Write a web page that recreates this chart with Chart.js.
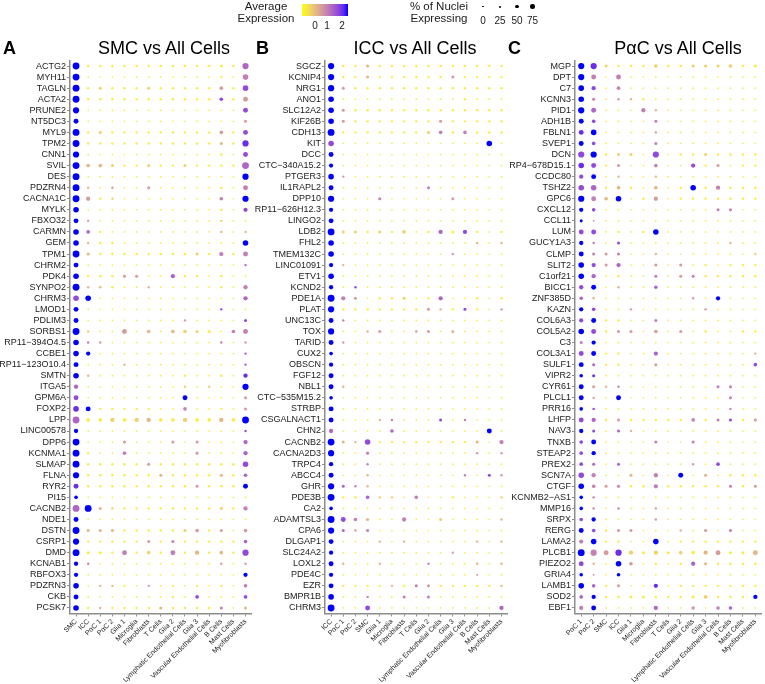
<!DOCTYPE html>
<html>
<head>
<meta charset="utf-8">
<script src="https://cdn.jsdelivr.net/npm/chart.js@4.4.1/dist/chart.umd.min.js"></script>
<style>
  body { margin: 0; background: #fff; font-family: "Liberation Sans", Arial, sans-serif; }
  #wrap { position: relative; width: 765px; height: 684px; overflow: hidden; background: #fff; }
  canvas { position: absolute; top: 0; }
  .txt { position: absolute; white-space: nowrap; color: #1a1a1a; }
  .letter { font-weight: bold; font-size: 18px; line-height: 18px; color: #000; }
  .title { font-size: 18px; line-height: 18px; width: 200px; text-align: center; color: #000; }
  .leg { font-size: 11.5px; line-height: 12px; text-align: center; width: 100px; }
  .num { font-size: 10px; line-height: 10px; width: 20px; text-align: center; }
  .dot { position: absolute; background: #000; border-radius: 50%; }
</style>
</head>
<body>
<div id="wrap">
  <canvas id="pA" width="255" height="684" style="left:0px"></canvas>
  <canvas id="pB" width="256" height="684" style="left:255px"></canvas>
  <canvas id="pC" width="260" height="684" style="left:505px"></canvas>

  <div class="txt letter" style="left:3px;top:39px">A</div>
  <div class="txt title" style="left:64px;top:39px">SMC vs All Cells</div>
  <div class="txt letter" style="left:256px;top:39px">B</div>
  <div class="txt title" style="left:315px;top:39px">ICC vs All Cells</div>
  <div class="txt letter" style="left:508px;top:39px">C</div>
  <div class="txt title" style="left:578px;top:39px">PαC vs All Cells</div>

  <!-- legends -->
  <div class="txt leg" style="left:216px;top:0px">Average<br>Expression</div>
  <div id="cbar" style="position:absolute;left:302px;top:4px;width:46px;height:12px"></div>
  <div class="txt num" style="left:305px;top:20.5px">0</div>
  <div class="txt num" style="left:317px;top:20.5px">1</div>
  <div class="txt num" style="left:332px;top:20.5px">2</div>
  <div class="txt leg" style="left:389px;top:0px">% of Nuclei<br>Expressing</div>
  <div id="sizeLegend"></div>
</div>

<script>
// cell types (x axis) for each panel
const cellsA = ['SMC', 'ICC', 'PαC 1', 'PαC 2', 'Glia 1', 'Microglia', 'Fibroblasts', 'T Cells', 'Glia 2',
  'Lymphatic Endothelial Cells', 'Glia 3', 'Vascular Endothelial Cells', 'B Cells', 'Mast Cells', 'Myofibroblasts'];
const cellsB = ['ICC', 'PαC 1', 'PαC 2', 'SMC', 'Glia 1', 'Microglia', 'Fibroblasts', 'T Cells', 'Glia 2',
  'Lymphatic Endothelial Cells', 'Glia 3', 'Vascular Endothelial Cells', 'B Cells', 'Mast Cells', 'Myofibroblasts'];
const cellsC = ['PαC 1', 'PαC 2', 'SMC', 'ICC', 'Glia 1', 'Microglia', 'Fibroblasts', 'T Cells', 'Glia 2',
  'Lymphatic Endothelial Cells', 'Glia 3', 'Vascular Endothelial Cells', 'B Cells', 'Mast Cells', 'Myofibroblasts'];

// genes (y axis, top to bottom)
const genesA = ['ACTG2', 'MYH11', 'TAGLN', 'ACTA2', 'PRUNE2', 'NT5DC3', 'MYL9', 'TPM2', 'CNN1', 'SVIL',
  'DES', 'PDZRN4', 'CACNA1C', 'MYLK', 'FBXO32', 'CARMN', 'GEM', 'TPM1', 'CHRM2', 'PDK4',
  'SYNPO2', 'CHRM3', 'LMOD1', 'PDLIM3', 'SORBS1', 'RP11−394O4.5', 'CCBE1', 'RP11−123O10.4', 'SMTN', 'ITGA5',
  'GPM6A', 'FOXP2', 'LPP', 'LINC00578', 'DPP6', 'KCNMA1', 'SLMAP', 'FLNA', 'RYR2', 'PI15',
  'CACNB2', 'NDE1', 'DSTN', 'CSRP1', 'DMD', 'KCNAB1', 'RBFOX3', 'PDZRN3', 'CKB', 'PCSK7'];
const genesB = ['SGCZ', 'KCNIP4', 'NRG1', 'ANO1', 'SLC12A2', 'KIF26B', 'CDH13', 'KIT', 'DCC', 'CTC−340A15.2',
  'PTGER3', 'IL1RAPL2', 'DPP10', 'RP11−626H12.3', 'LINGO2', 'LDB2', 'FHL2', 'TMEM132C', 'LINC01091', 'ETV1',
  'KCND2', 'PDE1A', 'PLAT', 'UNC13C', 'TOX', 'TARID', 'CUX2', 'OBSCN', 'FGF12', 'NBL1',
  'CTC−535M15.2', 'STRBP', 'CSGALNACT1', 'CHN2', 'CACNB2', 'CACNA2D3', 'TRPC4', 'ABCC4', 'GHR', 'PDE3B',
  'CA2', 'ADAMTSL3', 'CPA6', 'DLGAP1', 'SLC24A2', 'LOXL2', 'PDE4C', 'EZR', 'BMPR1B', 'CHRM3'];
const genesC = ['MGP', 'DPT', 'C7', 'KCNN3', 'PID1', 'ADH1B', 'FBLN1', 'SVEP1', 'DCN', 'RP4−678D15.1',
  'CCDC80', 'TSHZ2', 'GPC6', 'CXCL12', 'CCL11', 'LUM', 'GUCY1A3', 'CLMP', 'SLIT2', 'C1orf21',
  'BICC1', 'ZNF385D', 'KAZN', 'COL6A3', 'COL5A2', 'C3', 'COL3A1', 'SULF1', 'VIPR2', 'CYR61',
  'PLCL1', 'PRR16', 'LHFP', 'NAV3', 'TNXB', 'STEAP2', 'PREX2', 'SCN7A', 'CTGF', 'KCNMB2−AS1',
  'MMP16', 'SRPX', 'RERG', 'LAMA2', 'PLCB1', 'PIEZO2', 'GRIA4', 'LAMB1', 'SOD2', 'EBF1'];

// % of nuclei expressing, in tens (one digit per cell type, same order as cells)
const pctA = [
  '92222 22222 22328', '91111 11111 11217', '92322 23222 22427', '92222 22222 22426', '81111 11111 11116',
  '61111 11111 11113', '92322 22222 22426', '92222 22222 22328', '81111 11111 11216', '94432 23223 22229',
  '91111 11111 11118', '92121 13111 11216', '95221 11111 11418', '71111 11111 11215', '62111 11111 11211',
  '74211 11111 11212', '72221 11111 11117', '93222 22222 32526', '61111 11111 11112', '72223 31152 21211',
  '92221 12111 11215', '77111 11111 11115', '61111 11111 11211', '61111 11112 11113', '92116 14144 33146',
  '72211 11111 11212', '75111 11111 11112', '61112 11111 11112', '72111 11112 11215', '51111 11112 12118',
  '61111 11116 11113', '76222 22114 11213', '94454 55445 44549', '51111 11111 11112', '91113 11131 31115',
  '92114 11111 31115', '92222 23222 22227', '82222 22322 22324', '62222 22222 32226', '41111 11111 11111',
  '99322 22222 22325', '61111 11111 11111', '93332 22223 42314', '82222 23232 22224', '93326 24262 52428',
  '52111 11111 11212', '51111 11111 11115', '71222 12121 21214', '61111 11121 41114', '72222 22322 22313'];
// average expression level, 1 = low (yellow) .. 9 = high (blue)
const exprA = [
  '91111 11111 11116', '91111 11111 11115', '91211 12111 11417', '91111 11111 11714', '91111 11111 11117',
  '91111 11111 11114', '91211 11111 11417', '91111 11111 11318', '91111 11111 11117', '93321 12112 11116',
  '91111 11111 11119', '93141 14111 11115', '94121 11111 11519', '91111 11111 11117', '94111 11111 11211',
  '96111 11111 11313', '93111 11111 11119', '93111 11111 21515', '91111 11111 11116', '91114 41161 11111',
  '93311 13111 11115', '79111 11111 11116', '91111 11111 11711', '91111 11114 11117', '92114 13132 21155',
  '95411 11111 11514', '99111 11111 11116', '91113 11111 11116', '93111 11111 11118', '61111 11112 12119',
  '71111 11119 11114', '89111 11115 11114', '61121 23112 11319', '91111 11111 11117', '91114 11141 41116',
  '91115 11111 41116', '91111 14111 11117', '91111 11311 11316', '81111 11111 41119', '91111 11111 11111',
  '69321 11111 11215', '91111 11111 11111', '93331 11112 41414', '91111 14151 11116', '91115 12151 31317',
  '95111 11111 11414', '91111 11111 11119', '91331 14111 11115', '91111 11111 71117', '91311 11311 11513'];

const pctB = [
  '82232 22222 22222', '82232 22222 32222', '83222 22222 22222', '71111 11111 12111', '73222 22222 22222',
  '73222 22223 22222', '92222 22234 24222', '71111 11111 11171', '61111 11111 11111', '51111 11111 11111',
  '72111 11111 11111', '61111 11131 11111', '81113 11111 31111', '51111 11111 11111', '61111 11111 11111',
  '93323 24125 35212', '71111 11111 11212', '71111 11111 21111', '52111 11111 11111', '71111 11111 11111',
  '51211 11111 11111', '95312 23125 11212', '82222 22232 23212', '62111 11111 11111', '81123 11231 31111',
  '62111 11111 11111', '41111 11111 11111', '51111 11111 11111', '61111 11111 11111', '62111 11111 11111',
  '41111 11111 11111', '61111 11111 11111', '61112 21113 12111', '51111 41111 11161', '93272 22222 22315',
  '81131 11111 11212', '51121 11111 11111', '61121 11111 12132', '83221 11111 11111', '92242 21411 21112',
  '41111 11111 11111', '96431 15113 11112', '83231 11111 11111', '61112 12111 11212', '51111 11111 21111',
  '62112 11121 11212', '51111 11111 11111', '62222 22332 22222', '71121 13131 11111', '91161 11111 11115'];
const exprB = [
  '91131 11111 11111', '91131 11111 41111', '94111 11111 11111', '91111 11111 11111', '94111 11111 11111',
  '94111 11114 11111', '91111 11125 15111', '71111 11111 11191', '91111 11111 11111', '91111 11111 11111',
  '94111 11111 11111', '91111 11151 11111', '91115 11111 41111', '91111 11111 11111', '91111 11111 11111',
  '92212 12116 17111', '91111 11111 11313', '91111 11111 41111', '93111 11111 11111', '91111 11111 11111',
  '91711 11111 11111', '95411 12116 11111', '91111 11143 17114', '95111 11111 11111', '91134 11441 31111',
  '94111 11111 11111', '91111 11111 11111', '91111 11111 11111', '91111 11111 11111', '93111 11111 11111',
  '91111 11111 11111', '91111 11111 11111', '91113 51117 15111', '61111 61111 11191', '93371 11111 11315',
  '91151 11111 11414', '91151 11111 11111', '91131 11111 15174', '96531 11111 11111', '91162 21511 11112',
  '91111 11111 11111', '97531 15112 11113', '96451 11111 11111', '91113 13111 11313', '91111 11111 41111',
  '93113 11151 11313', '91111 11111 11511', '91111 31541 11113', '91151 15151 11111', '91171 11111 11116'];

const pctC = [
  '88322 24223 33423', '86161 11111 11111', '75141 11111 11111', '73122 21111 11111', '86111 52111 11111',
  '64111 13111 11111', '67111 12111 11111', '64111 13111 11111', '88233 18122 32222', '76231 14115 23122',
  '56121 12111 11111', '77242 14127 25222', '86471 25122 22222', '54111 11111 13311', '31111 11111 11111',
  '66121 27111 11111', '52131 11111 11211', '63331 12111 11112', '75351 13131 21222', '75121 13133 22222',
  '56121 14111 11111', '42111 11112 15111', '54112 11111 21111', '56221 13111 11111', '76233 14131 21122',
  '35111 11111 11111', '66221 15111 11112', '63221 13111 11114', '43111 11111 11111', '63221 11111 13311',
  '62161 11111 11311', '42111 11111 11211', '65232 22224 23323', '53132 11111 11111', '46111 13113 11111',
  '45111 11111 11111', '43131 11112 14111', '75113 15161 31222', '74332 25222 22323', '42111 11111 11111',
  '42121 12111 11111', '45111 12111 11111', '64233 11121 31311', '57221 17122 22222', '98685 35344 56336',
  '62174 12125 32222', '41141 11111 11111', '74231 15122 22222', '45223 32223 42225', '56111 15114 14411'];
const exprC = [
  '98211 12112 22211', '95151 11111 11111', '97151 11111 11111', '95143 11111 11111', '96111 53111 11111',
  '97111 15111 11111', '89111 14111 11111', '97111 15111 11111', '79122 17111 21111', '87141 15117 14111',
  '79131 13111 11111', '76131 13119 15111', '95391 14111 11111', '97111 11111 15511', '95111 11111 11111',
  '77111 19111 11111', '95171 11111 11311', '95451 13111 11112', '97461 14141 11111', '96111 15145 11111',
  '79131 16111 11111', '63111 11114 19111', '97114 11111 41111', '79111 15111 11111', '97144 14141 11111',
  '59111 11111 11111', '79111 16111 11113', '96111 14111 11117', '98111 11111 11111', '94351 11111 15511',
  '94191 11111 11511', '97111 11111 11511', '76141 11115 15714', '97163 11111 11111', '79111 15115 11111',
  '79111 11111 11111', '76161 11114 17111', '75113 15191 31111', '95451 15111 11514', '95111 11111 11111',
  '95151 14111 11111', '79111 14111 11111', '97144 11131 41511', '59111 19111 11111', '95482 12121 34113',
  '73194 11116 31111', '95191 11111 11111', '96141 18111 11111', '69111 11111 21119', '59111 16114 15611'];

// size legend: % expressing
const sizeLegendValues = [0, 25, 50, 75];

// ---------- colour ramp (yellow -> blue, interpolated in CIELAB like ggplot) ----------
function toLin(c) { c /= 255; return c <= 0.04045 ? c / 12.92 : Math.pow((c + 0.055) / 1.055, 2.4); }
function fromLin(v) {
  v = v <= 0.0031308 ? 12.92 * v : 1.055 * Math.pow(v, 1 / 2.4) - 0.055;
  return Math.round(Math.max(0, Math.min(1, v)) * 255);
}
function rgb2lab(rgb) {
  const R = toLin(rgb[0]), G = toLin(rgb[1]), B = toLin(rgb[2]);
  const X = (0.4124 * R + 0.3576 * G + 0.1805 * B) / 0.95047;
  const Y = 0.2126 * R + 0.7152 * G + 0.0722 * B;
  const Z = (0.0193 * R + 0.1192 * G + 0.9505 * B) / 1.08883;
  const f = t => t > 0.008856 ? Math.cbrt(t) : 7.787 * t + 16 / 116;
  return [116 * f(Y) - 16, 500 * (f(X) - f(Y)), 200 * (f(Y) - f(Z))];
}
function lab2rgb(lab) {
  const fy = (lab[0] + 16) / 116, fx = fy + lab[1] / 500, fz = fy - lab[2] / 200;
  const g = t => t > 0.206893 ? t * t * t : (t - 16 / 116) / 7.787;
  const X = g(fx) * 0.95047, Y = g(fy), Z = g(fz) * 1.08883;
  const R = 3.2406 * X - 1.5372 * Y - 0.4986 * Z;
  const G = -0.9689 * X + 1.8758 * Y + 0.0415 * Z;
  const B = 0.0557 * X - 0.2040 * Y + 1.0570 * Z;
  return [fromLin(R), fromLin(G), fromLin(B)];
}
const LOW = rgb2lab([255, 255, 0]);
const HIGH = rgb2lab([0, 0, 255]);
function rampColor(t) {
  t = Math.max(0, Math.min(1, t));
  const c = lab2rgb([0, 1, 2].map(k => LOW[k] + (HIGH[k] - LOW[k]) * t));
  return `rgb(${c[0]},${c[1]},${c[2]})`;
}
// level 1 sits a little above the bottom of the colour bar
const levelColor = lvl => rampColor((lvl - 0.3) / 8.7);
const pctRadius = pct => 0.55 + pct * 0.032;

// colour bar
const stops = [];
for (let i = 0; i <= 10; i++) stops.push(rampColor(i / 10) + ' ' + (i * 10) + '%');
document.getElementById('cbar').style.background = 'linear-gradient(to right,' + stops.join(',') + ')';

// size legend
const sizeX = [483, 500, 517, 532.5];
const sizeD = [1.2, 2, 3.3, 4.5];
const sl = document.getElementById('sizeLegend');
sizeLegendValues.forEach((v, i) => {
  const d = document.createElement('div');
  d.className = 'dot';
  d.style.left = (sizeX[i] - sizeD[i] / 2) + 'px';
  d.style.top = (6.7 - sizeD[i] / 2) + 'px';
  d.style.width = sizeD[i] + 'px';
  d.style.height = sizeD[i] + 'px';
  sl.appendChild(d);
  const t = document.createElement('div');
  t.className = 'txt num';
  t.style.left = (sizeX[i] - 10) + 'px';
  t.style.top = '15.5px';
  t.textContent = v;
  sl.appendChild(t);
});

// ---------- panels ----------
const AXIS = '#8c8c8c';
const TXT = '#1a1a1a';
const FONT = '"Liberation Sans", Arial, sans-serif';

function makePanel(id, cells, genes, pct, expr, padRight) {
  const points = [];
  genes.forEach((g, i) => {
    const p = pct[i].replace(/ /g, '');
    const e = expr[i].replace(/ /g, '');
    cells.forEach((c, j) => {
      points.push({ x: c, y: g, r: pctRadius(+p[j] * 10), lvl: +e[j] });
    });
  });
  new Chart(document.getElementById(id), {
    type: 'bubble',
    data: {
      datasets: [{
        data: points,
        backgroundColor: ctx => ctx.raw ? levelColor(ctx.raw.lvl) : '#000',
        borderWidth: 0,
        hoverRadius: 0
      }]
    },
    options: {
      responsive: false,
      animation: false,
      events: [],
      layout: { padding: { top: 60.5, right: padRight, bottom: 0, left: 0 } },
      plugins: { legend: { display: false }, tooltip: { enabled: false } },
      scales: {
        x: {
          type: 'category', labels: cells, offset: true,
          border: { color: AXIS, width: 1.5 },
          grid: { drawOnChartArea: false, drawTicks: true, tickLength: 3, color: AXIS },
          ticks: { autoSkip: false, minRotation: 45, maxRotation: 45, padding: 1, color: TXT,
                   font: { size: 7, family: FONT } },
          afterFit: s => { s.height = 70.5; }
        },
        y: {
          type: 'category', labels: genes, offset: true,
          border: { color: AXIS, width: 1.5 },
          grid: { drawOnChartArea: false, drawTicks: true, tickLength: 3, color: AXIS },
          ticks: { autoSkip: false, padding: 1, color: TXT, font: { size: 9, family: FONT } },
          afterFit: s => { s.width = 70; }
        }
      }
    }
  });
}

makePanel('pA', cellsA, genesA, pctA, exprA, 2);
makePanel('pB', cellsB, genesB, pctB, exprB, 1.5);
makePanel('pC', cellsC, genesC, pctC, exprC, 3);
</script>
</body>
</html>
